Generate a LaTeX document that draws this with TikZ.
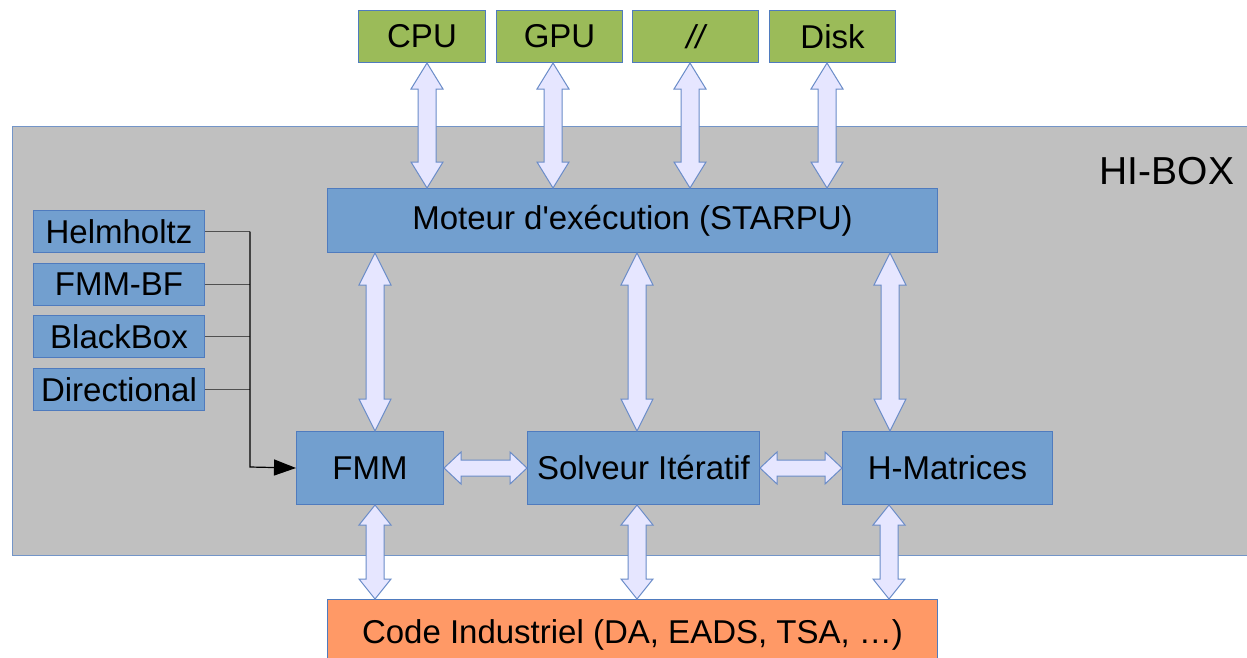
\documentclass[tikz,border=0pt]{standalone}
\usepackage{fontspec}
\setmainfont{Liberation Sans}
\newfontfamily\plainfont{Liberation Sans}
\usetikzlibrary{calc,arrows.meta}
\definecolor{grayfill}{HTML}{C0C0C0}
\definecolor{grayline}{HTML}{7395C8}
\definecolor{greenfill}{HTML}{9BBB59}
\definecolor{bluefill}{HTML}{729FCF}
\definecolor{blueline}{HTML}{4F7BBE}
\definecolor{orangefill}{HTML}{FF9966}
\definecolor{arrfill}{HTML}{E6E6FF}
\definecolor{arrline}{HTML}{6A8CC8}
\definecolor{connline}{HTML}{505050}
\tikzset{
  txt/.style={font=\fontsize{33}{39}\selectfont},
  boxbase/.style={draw=blueline, line width=1pt, inner sep=0pt, anchor=north west, txt},
  gbox/.style={boxbase, fill=greenfill},
  bbox/.style={boxbase, fill=bluefill},
  obox/.style={boxbase, fill=orangefill},
  barrow/.style={draw=arrline, fill=arrfill, line width=1pt, line join=miter},
  conn/.style={draw=connline, line width=1.2pt},
}
% vertical double block arrow: x, upper node, lower node, head length
\newcommand\varr[4]{%
  \draw[barrow] let \p1=(#2.south), \p2=(#3.north) in
   ({#1pt},\y1) -- ({#1pt+16pt},{\y1-#4pt}) -- ({#1pt+9pt},{\y1-#4pt})
   -- ({#1pt+9pt},{\y2+#4pt}) -- ({#1pt+16pt},{\y2+#4pt}) -- ({#1pt},\y2)
   -- ({#1pt-16pt},{\y2+#4pt}) -- ({#1pt-9pt},{\y2+#4pt})
   -- ({#1pt-9pt},{\y1-#4pt}) -- ({#1pt-16pt},{\y1-#4pt}) -- cycle;}
% horizontal double block arrow: left node, right node, head length
\newcommand\harr[3]{%
  \draw[barrow] let \p1=(#1.east), \p2=(#2.west) in
   (\x1,\y1) -- ({\x1+#3pt},{\y1+16pt}) -- ({\x1+#3pt},{\y1+8pt})
   -- ({\x2-#3pt},{\y1+8pt}) -- ({\x2-#3pt},{\y1+16pt}) -- (\x2,\y1)
   -- ({\x2-#3pt},{\y1-16pt}) -- ({\x2-#3pt},{\y1-8pt})
   -- ({\x1+#3pt},{\y1-8pt}) -- ({\x1+#3pt},{\y1-16pt}) -- cycle;}
\begin{document}
\begin{tikzpicture}[x=1pt,y=-1pt]
\clip (0,0) rectangle (1247,657);
\fill[white] (0,0) rectangle (1247,657);
% HI-BOX container
\node[draw=grayline, fill=grayfill, line width=1pt, inner sep=0pt, anchor=north west,
      minimum width=1260pt, minimum height=429pt] (hibox) at (12,126) {};
\node[font=\fontsize{39}{46}\selectfont] (hilabel) at (1167,171) {HI-BOX};
% top resources
\node[gbox, minimum width=127pt, minimum height=52pt] (cpu) at (358,10) {CPU};
\node[gbox, minimum width=126pt, minimum height=52pt] (gpu) at (496,10) {GPU};
\node[gbox, minimum width=126pt, minimum height=52pt] (par) at (632,10) {\itshape //};
\node[gbox, minimum width=126pt, minimum height=52pt] (disk) at (769,10) {Disk};
% runtime
\node[bbox, minimum width=610pt, minimum height=64pt] (moteur) at (327,188) {Moteur d{\plainfont '}exécution (STARPU)};
% left kernels
\node[bbox, minimum width=171pt, minimum height=42pt] (helm) at (33,210) {Helmholtz};
\node[bbox, minimum width=171pt, minimum height=42pt] (fmmbf) at (33,263) {FMM-BF};
\node[bbox, minimum width=171pt, minimum height=42pt] (bb) at (33,315) {BlackBox};
\node[bbox, minimum width=171pt, minimum height=42pt] (dir) at (33,368) {Directional};
% middle row
\node[bbox, minimum width=147pt, minimum height=73pt] (fmm) at (296,431) {FMM};
\node[bbox, minimum width=232pt, minimum height=73pt] (solv) at (527,431) {Solveur Itératif};
\node[bbox, minimum width=210pt, minimum height=73pt] (hmat) at (842,431) {H-Matrices};
% industrial code
\node[obox, minimum width=610pt, minimum height=71pt] (code) at (327,599) {Code Industriel (DA, EADS, TSA, …)};
% connectors from kernels
\coordinate (jn) at (250,467);
\draw[conn] (helm.east) -- (helm.east -| jn);
\draw[conn] (fmmbf.east) -- (fmmbf.east -| jn);
\draw[conn] (bb.east) -- (bb.east -| jn);
\draw[conn] (dir.east) -- (dir.east -| jn);
\draw[conn, draw=black, -{Triangle[length=22pt,width=16pt]}] (helm.east -| jn) -- (jn) -- (fmm.west);
% top arrows
\varr{427}{cpu}{moteur}{26}
\varr{553}{gpu}{moteur}{26}
\varr{690}{par}{moteur}{26}
\varr{827}{disk}{moteur}{26}
% middle arrows
\varr{375}{moteur}{fmm}{32}
\varr{637}{moteur}{solv}{32}
\varr{890}{moteur}{hmat}{32}
% bottom arrows
\varr{375}{fmm}{code}{20}
\varr{637}{solv}{code}{20}
\varr{889}{hmat}{code}{20}
% horizontal arrows
\harr{fmm}{solv}{17}
\harr{solv}{hmat}{17}
\end{tikzpicture}
\end{document}
